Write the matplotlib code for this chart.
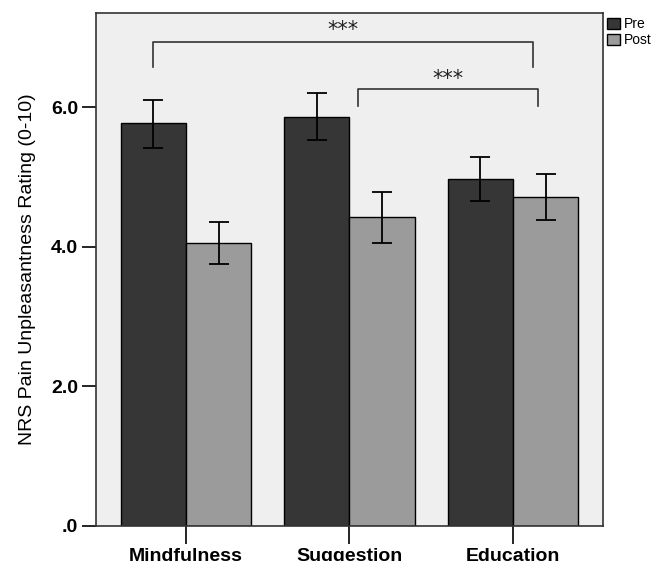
import matplotlib.pyplot as plt
import numpy as np

# values
groups = ["Mindfulness", "Suggestion", "Education"]
pre_mean = [5.77, 5.86, 4.97]
pre_lo = [5.42, 5.53, 4.66]
pre_hi = [6.10, 6.20, 5.28]
post_mean = [4.05, 4.43, 4.71]
post_lo = [3.75, 4.05, 4.38]
post_hi = [4.36, 4.78, 5.05]
yticks = [0, 2, 4, 6]
ytick_labels = [".0", "2.0", "4.0", "6.0"]

PRE_COLOR = "#363636"
POST_COLOR = "#9b9b9b"
BG = "#efefef"

plt.rcParams["font.family"] = ["Liberation Sans", "DejaVu Sans"]

fig = plt.figure(figsize=(6.69, 5.61), dpi=100)
ax = fig.add_axes([0.1435, 0.0624, 0.9013 - 0.1435, 0.9768 - 0.0624])
ax.set_facecolor(BG)

x = np.arange(len(groups))
w = 0.4
pre_err = [np.subtract(pre_mean, pre_lo), np.subtract(pre_hi, pre_mean)]
post_err = [np.subtract(post_mean, post_lo), np.subtract(post_hi, post_mean)]

ax.bar(x - w / 2, pre_mean, w, color=PRE_COLOR, edgecolor="black",
       linewidth=1.0, label="Pre", zorder=2)
ax.bar(x + w / 2, post_mean, w, color=POST_COLOR, edgecolor="black",
       linewidth=1.0, label="Post", zorder=2)
ek = dict(ecolor="black", elinewidth=1.3, capsize=7, capthick=1.3, fmt="none", zorder=3)
ax.errorbar(x - w / 2, pre_mean, yerr=pre_err, **ek)
ax.errorbar(x + w / 2, post_mean, yerr=post_err, **ek)


def bracket(x0, x1, y_top, y_end, y_text):
    ax.plot([x0, x0, x1, x1], [y_end, y_top, y_top, y_end],
            color="#333333", linewidth=1.2, zorder=3)
    ax.text((x0 + x1) / 2, y_text, "***", ha="center", va="center",
            fontsize=15, family="DejaVu Sans", color="#222222")


bracket(-0.20, 2.12, 6.94, 6.58, 7.10)
bracket(1.05, 2.15, 6.26, 6.02, 6.41)

ax.set_xlim(-0.55, 2.55)
ax.set_ylim(0, 7.35)
ax.set_xticks(x)
ax.set_xticklabels(groups, fontsize=14, fontweight="bold")
ax.set_yticks(yticks)
ax.set_yticklabels(ytick_labels, fontsize=14, fontweight="bold")
ax.tick_params(axis="x", length=13, width=1.2, pad=3)
ax.tick_params(axis="y", length=10, width=1.2, pad=3)
ax.set_ylabel("NRS Pain Unpleasantness Rating (0-10)", fontsize=14, labelpad=11)
for s in ax.spines.values():
    s.set_linewidth(1.2)
    s.set_color("#333333")

leg = ax.legend(loc="upper left", bbox_to_anchor=(1.0, 1.0), frameon=False,
                fontsize=10, handlelength=0.9, handleheight=0.9,
                handletextpad=0.3, labelspacing=0.15, borderaxespad=0.3,
                borderpad=0.0)

fig.savefig("out.png", dpi=100)
